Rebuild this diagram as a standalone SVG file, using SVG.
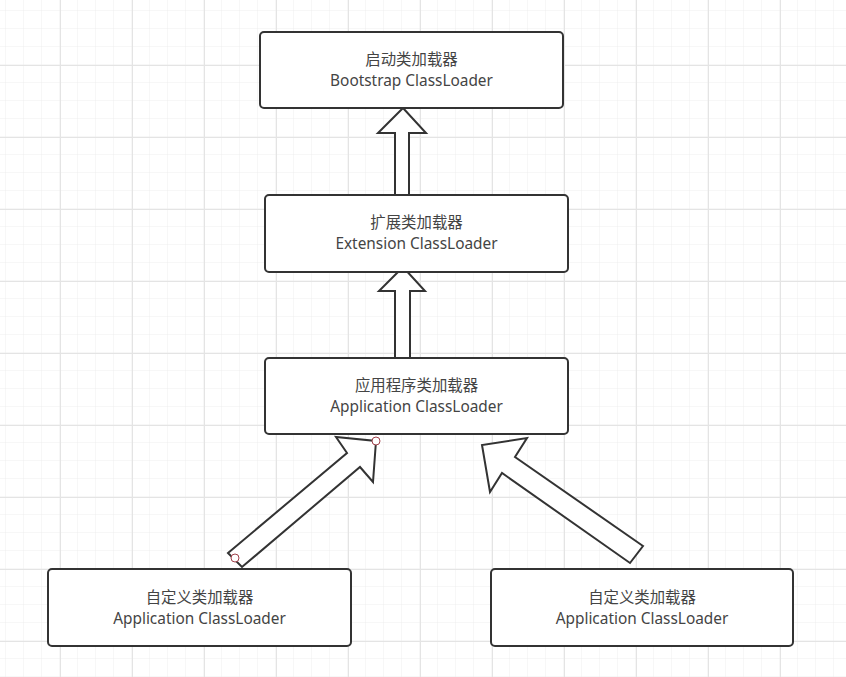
<svg xmlns="http://www.w3.org/2000/svg" width="846" height="677" viewBox="0 0 846 677">
<defs>
<pattern id="minor" x="6" y="11" width="18" height="18" patternUnits="userSpaceOnUse">
<path d="M18 0V18M0 18H18" fill="none" stroke="#eeeeee" stroke-width="1"/>
</pattern>
<pattern id="major" x="60" y="65" width="72" height="72" patternUnits="userSpaceOnUse">
<path d="M0.5 0V72M0 0.5H72" fill="none" stroke="#e4e4e4" stroke-width="1"/>
</pattern>
</defs>
<style>
.box{fill:#fff;stroke:#333;stroke-width:2}
.arr{fill:#fff;stroke:#333;stroke-width:2;stroke-linejoin:miter}
.t{font-family:"Noto Sans","Noto Sans CJK SC",sans-serif;font-size:15.4px;fill:#444;text-anchor:middle}
.pt{fill:#fff;stroke:#a0404a;stroke-width:1}
</style>
<rect width="846" height="677" fill="#fff"/>
<rect width="846" height="677" fill="url(#minor)"/>
<rect width="846" height="677" fill="url(#major)"/>
<g id="connectors">
<path class="arr" d="M395 195V133H378L403 108L426 133H409V195Z"/>
<path class="arr" d="M395 358V291H379L403 267L425 291H410V358Z"/>
<path class="arr" d="M228 553L347 453L336 437L376 441L373 482L360 467L242 567Z"/>
<path class="arr" d="M643 546L515 457L527 438L482 445L490 492L502 473L630 563Z"/>
<circle class="pt" cx="376" cy="441" r="4"/>
<circle class="pt" cx="235" cy="558" r="4"/>
</g>
<g id="bootstrap">
<rect class="box" x="260" y="32" width="303" height="76" rx="4"/>
<text class="t" x="411.5" y="65">启动类加载器</text>
<text class="t" x="411.5" y="86">Bootstrap ClassLoader</text>
</g>
<g id="extension">
<rect class="box" x="265" y="195" width="303" height="77" rx="4"/>
<text class="t" x="416.5" y="228">扩展类加载器</text>
<text class="t" x="416.5" y="249">Extension ClassLoader</text>
</g>
<g id="application">
<rect class="box" x="265" y="358" width="303" height="76" rx="4"/>
<text class="t" x="416.5" y="391">应用程序类加载器</text>
<text class="t" x="416.5" y="412">Application ClassLoader</text>
</g>
<g id="custom-left">
<rect class="box" x="48" y="569" width="303" height="77" rx="4"/>
<text class="t" x="199.5" y="603">自定义类加载器</text>
<text class="t" x="199.5" y="624">Application ClassLoader</text>
</g>
<g id="custom-right">
<rect class="box" x="491" y="569" width="302" height="77" rx="4"/>
<text class="t" x="642" y="603">自定义类加载器</text>
<text class="t" x="642" y="624">Application ClassLoader</text>
</g>
</svg>
